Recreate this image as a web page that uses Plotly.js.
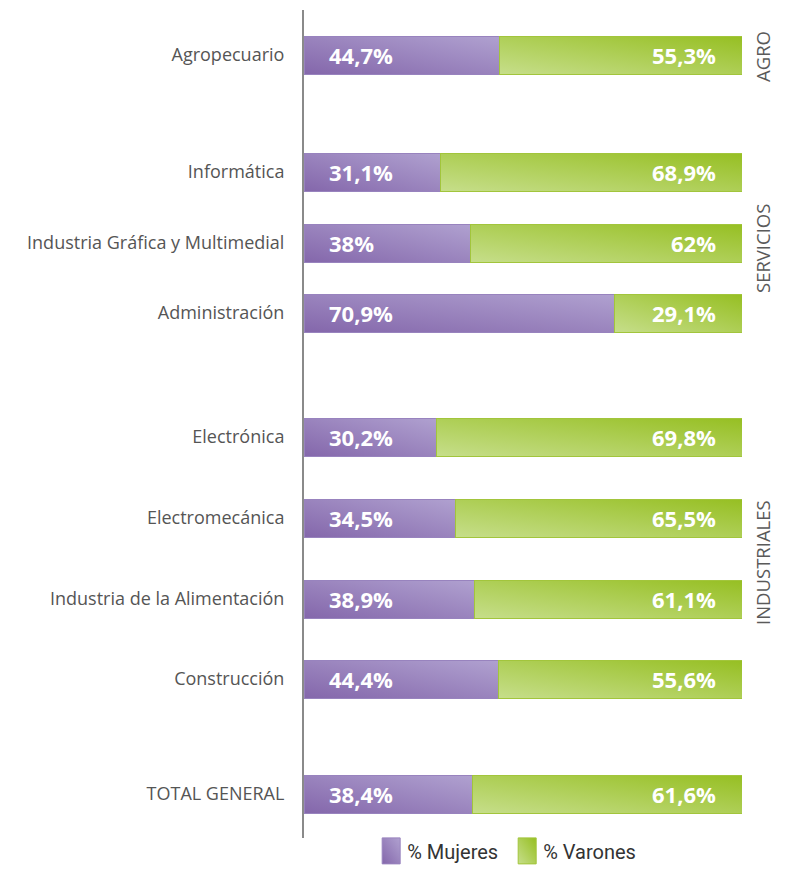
<!DOCTYPE html>
<html><head><meta charset="utf-8">
<script src="https://cdn.plot.ly/plotly-3.0.1.min.js"></script>
<style>body{margin:0;background:#fff}#chart{width:787px;height:875px}</style>
</head><body><div id="chart"></div>
<script>
const categories = ["Agropecuario","Informática","Industria Gráfica y Multimedial","Administración","Electrónica","Electromecánica","Industria de la Alimentación","Construcción","TOTAL GENERAL"];
const mujeres = [44.7,31.1,38,70.9,30.2,34.5,38.9,44.4,38.4];
const varones = [55.3,68.9,62,29.1,69.8,65.5,61.1,55.6,61.6];
const slots = [55,172,243,313,437,518,599,679,794];
const groups = ["AGRO","SERVICIOS","INDUSTRIALES"];
const groupSlots = [57,249,563];

const fmt = v => String(v).replace('.', ',') + '%';

const traces = [
  {type:'bar', orientation:'h', name:'% Mujeres', y:slots, x:mujeres, width:38,
   marker:{color:'#9b86c0', line:{color:'#9883be', width:1}}, hoverinfo:'skip'},
  {type:'bar', orientation:'h', name:'% Varones', y:slots, x:varones, width:38,
   marker:{color:'#b1cf5c', line:{color:'#a2c53c', width:1}}, hoverinfo:'skip'}
];

const annotations = [];
slots.forEach((s,i)=>{
  annotations.push({x:0, y:s, xref:'x', yref:'y', text:fmt(mujeres[i]), showarrow:false,
    xanchor:'left', xshift:23, font:{family:'Open Sans', size:22, color:'#fff', weight:700}});
  annotations.push({x:100, y:s, xref:'x', yref:'y', text:fmt(varones[i]), showarrow:false,
    xanchor:'right', xshift:-24, font:{family:'Open Sans', size:22, color:'#fff', weight:700}});
});
groups.forEach((g,i)=>{
  annotations.push({x:1, y:groupSlots[i], xref:'paper', yref:'y', text:g, showarrow:false,
    textangle:-90, xanchor:'center', xshift:20, font:{family:'Open Sans', size:18.5, color:'#5a5a5a'}});
});

const layout = {
  width:787, height:875, barmode:'stack', showlegend:true,
  margin:{l:304, r:45, t:10, b:37, autoexpand:false},
  paper_bgcolor:'#fff', plot_bgcolor:'#fff',
  xaxis:{range:[0,100], visible:false, fixedrange:true},
  yaxis:{range:[838,10], tickvals:slots, ticktext:categories, showline:true, linecolor:'#8a8a8a', linewidth:2,
         showgrid:false, zeroline:false, ticks:'', ticklen:0, ticklabelstandoff:14,
         tickfont:{family:'Open Sans', size:18, color:'#555'}},
  legend:{orientation:'h', x:0.457, xanchor:'center', y:0.008, yanchor:'top', font:{family:'Roboto', size:20, color:'#333'},
          traceorder:'normal', itemwidth:30},
  annotations:annotations
};

Plotly.newPlot('chart', traces, layout, {staticPlot:true}).then(()=>{
  const svg = document.querySelector('#chart svg.main-svg');
  const ns = 'http://www.w3.org/2000/svg';
  const defs = document.createElementNS(ns,'defs');
  function grad(id, c1, c2){
    const g = document.createElementNS(ns,'linearGradient');
    g.setAttribute('id',id); g.setAttribute('x1','0'); g.setAttribute('y1','1'); g.setAttribute('x2','1'); g.setAttribute('y2','0');
    [[0,c1],[1,c2]].forEach(([o,c])=>{const s=document.createElementNS(ns,'stop'); s.setAttribute('offset',o); s.setAttribute('stop-color',c); g.appendChild(s);});
    defs.appendChild(g);
  }
  grad('gP','#8467ab','#b0a1d0');
  grad('gG','#c6de8a','#96bf22');
  svg.insertBefore(defs, svg.firstChild);
  const tr = document.querySelectorAll('#chart .barlayer .trace');
  tr.forEach((t,i)=>t.querySelectorAll('path').forEach(p=>{p.style.fill = i===0?'url(#gP)':'url(#gG)';}));
  const lp = document.querySelectorAll('#chart .legend .traces');
  lp.forEach((t,i)=>t.querySelectorAll('.legendpoints path').forEach(p=>{
    p.setAttribute('d','M13,13H-5V-13H13Z'); p.style.fill = i===0?'url(#gP)':'url(#gG)';}));
});
</script></body></html>
